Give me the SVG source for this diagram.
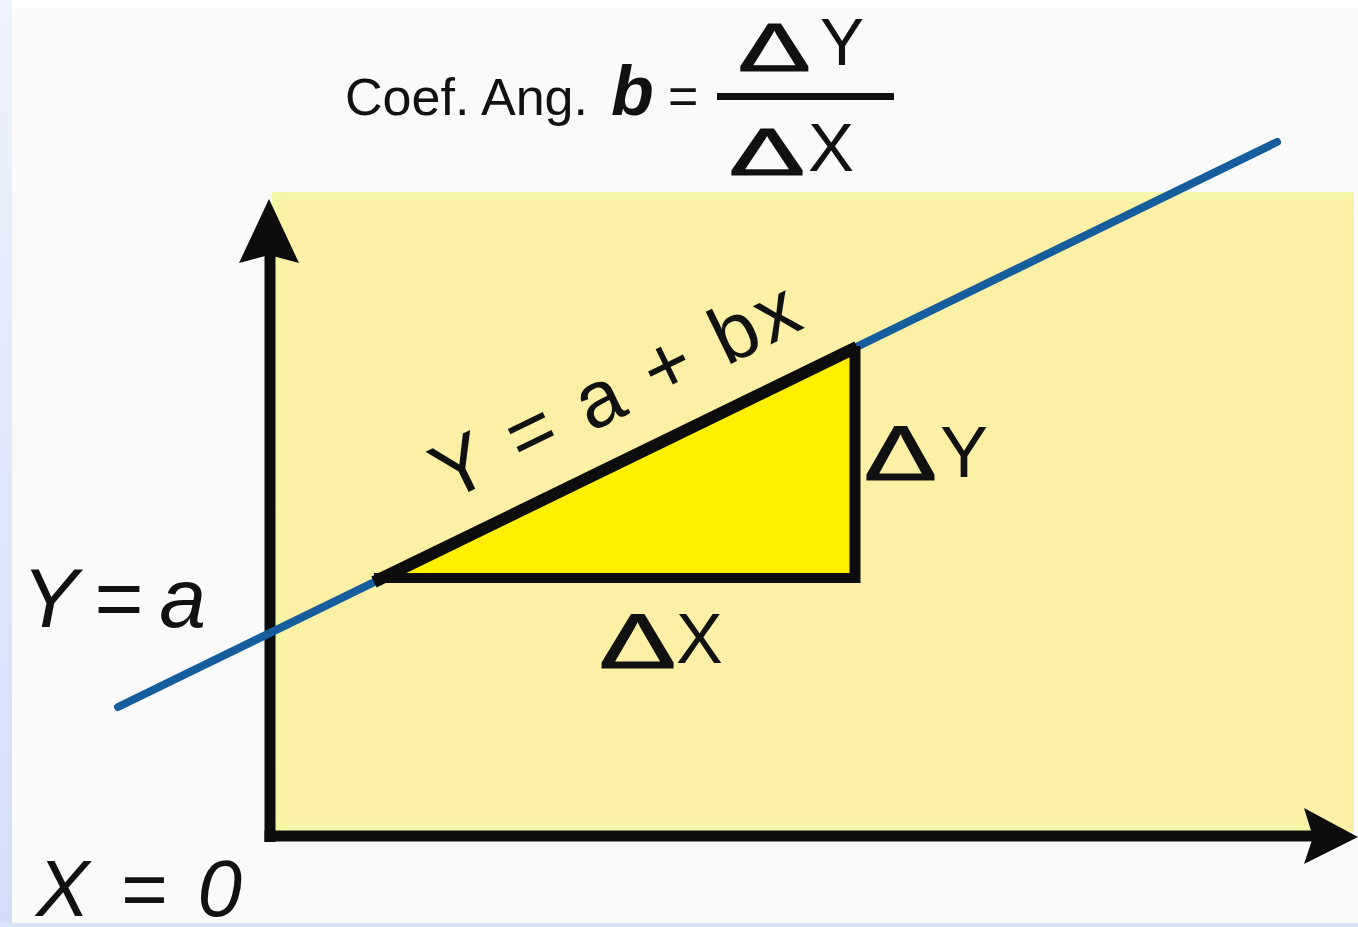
<svg xmlns="http://www.w3.org/2000/svg" width="1358" height="927" viewBox="0 0 1358 927">
<defs>
<style>
.t{font-family:"Liberation Sans",Arial,sans-serif;fill:#111}
.it{font-style:italic}
.d{font-family:"Liberation Sans",Arial,sans-serif;fill:#111;stroke:#111;stroke-width:1.2;stroke-linejoin:miter}
.ax{stroke:#0d0d0d;stroke-width:11;fill:none}
</style>
<linearGradient id="lb" x1="0" y1="0" x2="0" y2="1">
<stop offset="0" stop-color="#eef2fc"/>
<stop offset="1" stop-color="#d2def9"/>
</linearGradient>
<linearGradient id="lt" x1="0" y1="0" x2="0" y2="1">
<stop offset="0" stop-color="#f6f8aa"/>
<stop offset="1" stop-color="#fcf0a6" stop-opacity="0"/>
</linearGradient>
<linearGradient id="ll" x1="0" y1="0" x2="1" y2="0">
<stop offset="0" stop-color="#f1f8a6"/>
<stop offset="1" stop-color="#fcf0a6" stop-opacity="0"/>
</linearGradient>
<linearGradient id="lbt" x1="0" y1="1" x2="0" y2="0">
<stop offset="0" stop-color="#f1f8a6"/>
<stop offset="1" stop-color="#fcf0a6" stop-opacity="0"/>
</linearGradient>
</defs>
<g id="background">
<rect x="0" y="0" width="1358" height="927" fill="#fafafa"/>
<rect x="0" y="0" width="1358" height="8" fill="#ffffff"/>
<rect x="0" y="0" width="12" height="927" fill="url(#lb)"/>
<rect x="0" y="923" width="1358" height="4" fill="#d8e3fa"/>
</g>
<g id="plot-area">
<rect x="272" y="192" width="1082" height="640" fill="#fcf0a6"/>
<rect x="272" y="192" width="1082" height="22" fill="url(#lt)"/>
<rect x="272" y="192" width="22" height="640" fill="url(#ll)"/>
<rect x="272" y="808" width="1040" height="24" fill="url(#lbt)"/>
</g>
<g id="connectors">
<g id="y-axis">
<line class="ax" x1="270" y1="842" x2="270" y2="250"/>
<path d="M269,199 L299,263 L269,255 L239,263 Z" fill="#0d0d0d"/>
</g>
<g id="x-axis">
<line class="ax" x1="264.5" y1="836" x2="1315" y2="836"/>
<path d="M1358,837 L1304,864 L1313,837 L1304,808 Z" fill="#0d0d0d"/>
</g>
<line id="regression-line" x1="118" y1="707" x2="1277" y2="142" stroke="#155d9c" stroke-width="8" stroke-linecap="round"/>
</g>
<g id="triangle">
<polygon points="378,580 855,348 855,578" fill="#fff000"/>
<line x1="374" y1="578" x2="860" y2="578" stroke="#0d0d0d" stroke-width="10"/>
<line x1="855" y1="346" x2="855" y2="583" stroke="#0d0d0d" stroke-width="11"/>
<line x1="374" y1="582" x2="857" y2="347" stroke="#0d0d0d" stroke-width="12"/>
</g>
<g id="formula">
<text class="t" x="345" y="115" font-size="52" textLength="243" lengthAdjust="spacingAndGlyphs">Coef. Ang.</text>
<text class="t" x="611" y="115" font-size="70" font-weight="bold" font-style="italic">b</text>
<text class="t" x="668" y="114" font-size="52">=</text>
<line x1="717" y1="96.5" x2="894" y2="96.5" stroke="#111" stroke-width="7"/>
<text class="d" transform="translate(738,71) scale(1.6,1)" x="0" y="0" font-size="68">Δ</text>
<text class="t" x="820" y="65" font-size="66">Y</text>
<text class="d" transform="translate(729,175) scale(1.7,1)" x="0" y="0" font-size="67">Δ</text>
<text class="t" x="808" y="171" font-size="69">X</text>
</g>
<g id="label-line">
<text class="t" transform="translate(448,502) rotate(-26)" x="0" y="0" font-size="80" textLength="398" lengthAdjust="spacing">Y = a + bx</text>
</g>
<g id="label-dy">
<text class="d" transform="translate(864,480) scale(1.4,1)" x="0" y="0" font-size="78">Δ</text>
<text class="t" x="940" y="477" font-size="72">Y</text>
</g>
<g id="label-dx">
<text class="d" transform="translate(599,668) scale(1.5,1)" x="0" y="0" font-size="77">Δ</text>
<text class="t" x="676" y="663" font-size="70">X</text>
</g>
<g id="label-ya">
<text class="t it" x="22" y="627" font-size="84" textLength="184" lengthAdjust="spacing">Y = a</text>
</g>
<g id="label-x0">
<text class="t it" x="36" y="916" font-size="80" textLength="206" lengthAdjust="spacing">X = 0</text>
</g>
</svg>
